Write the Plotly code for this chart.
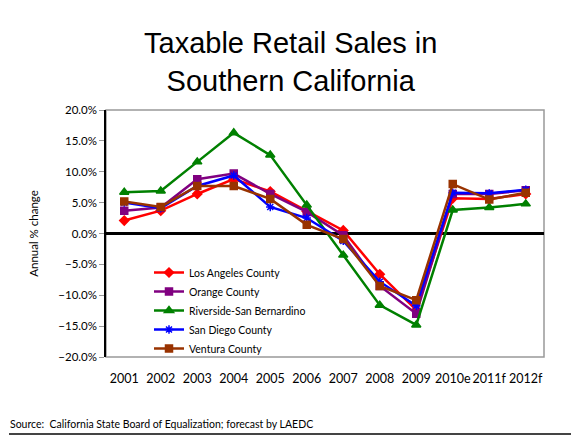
import plotly.graph_objects as go

# dados (variação anual %)
years = ["2001", "2002", "2003", "2004", "2005", "2006", "2007", "2008", "2009", "2010e", "2011f", "2012f"]

los_angeles = [2.1, 3.7, 6.4, 8.8, 6.8, 3.6, 0.5, -6.6, -12.4, 5.7, 5.6, 6.4]
orange = [3.7, 4.2, 8.8, 9.7, 6.4, 3.5, -0.3, -8.5, -13.0, 6.4, 6.4, 7.0]
riverside_sb = [6.7, 6.9, 11.6, 16.3, 12.7, 4.6, -3.5, -11.6, -14.8, 3.8, 4.2, 4.8]
san_diego = [5.0, 4.1, 7.7, 9.4, 4.3, 2.5, -1.2, -7.8, -11.7, 6.6, 6.5, 7.1]
ventura = [5.2, 4.3, 7.7, 7.7, 5.6, 1.4, -0.9, -8.5, -10.8, 8.0, 5.5, 6.6]

# a página tem margem de 8px no body, então a figura começa em (8, 8)
OFF = 8
W, H = 579 - OFF, 437 - OFF
# área do gráfico na janela: x 106..544, y 110..357
L, T = 106 - OFF, 110 - OFF
R, B = W - (544 - OFF), H - (357 - OFF)


def px2paper(x, y):
    # converte pixels da janela para coordenadas "paper"
    x, y = x - OFF, y - OFF
    return (x - L) / (W - L - R), (H - B - y) / (H - T - B)


series = [
    ("Los Angeles County", los_angeles, "#ff0000", "diamond", 7),
    ("Orange County", orange, "#800080", "square", 7),
    ("Riverside-San Bernardino", riverside_sb, "#008000", "triangle-up", 8),
    ("San Diego County", san_diego, "#0000ff", "asterisk-open", 7),
    ("Ventura County", ventura, "#993300", "square", 7),
]

fig = go.Figure()
for name, vals, color, symbol, size in series:
    fig.add_trace(go.Scatter(
        x=years, y=vals, mode="lines+markers", name=name,
        line=dict(color=color, width=2.5),
        marker=dict(color=color, symbol=symbol, size=size, line=dict(color=color, width=1.5)),
    ))

# moldura do slide (direita e base) e caixa da área do gráfico
xr, yb = px2paper(576, 434)
_, yt = px2paper(0, 9)
xl, _ = px2paper(9, 0)
fig.add_shape(type="line", xref="paper", yref="paper", x0=xr, y0=yt, x1=xr, y1=yb,
              line=dict(color="#888888", width=2))
fig.add_shape(type="line", xref="paper", yref="paper", x0=xl, y0=yb, x1=xr, y1=yb,
              line=dict(color="#444444", width=2))
fig.add_shape(type="rect", xref="paper", yref="paper", x0=0, y0=0, x1=1, y1=1,
              line=dict(color="#999999", width=1.5), layer="below")

tx, ty = px2paper(290, 62)
fig.add_annotation(text="Taxable Retail Sales in<br>Southern California", xref="paper", yref="paper",
                   x=tx, y=ty, showarrow=False, xanchor="center", yanchor="middle",
                   font=dict(family="Liberation Sans, Arial", size=29, color="black"))

sx, sy = px2paper(8, 424)
fig.add_annotation(text="Source:  California State Board of Equalization; forecast by LAEDC",
                   xref="paper", yref="paper", x=sx, y=sy, showarrow=False,
                   xanchor="left", yanchor="middle",
                   font=dict(family="Lato, Open Sans", size=10.5, color="black"))

lx, ly = px2paper(149, 258)
fig.update_layout(
    width=W, height=H,
    margin=dict(l=L, r=R, t=T, b=B),
    paper_bgcolor="white", plot_bgcolor="white",
    showlegend=True,
    legend=dict(x=lx, y=ly, xanchor="left", yanchor="top", bgcolor="rgba(0,0,0,0)",
                font=dict(family="Lato, Open Sans", size=10.5, color="black"),
                itemwidth=30, tracegroupgap=0),
    font=dict(family="Lato, Open Sans", color="black"),
)
fig.update_xaxes(
    type="category", range=[-0.5, 11.5], showgrid=False, zeroline=False,
    showline=False, ticks="", tickangle=0, tickfont=dict(size=12.5), ticklabelstandoff=12,
)
fig.update_yaxes(
    range=[-20, 20], dtick=5, tickformat=".1f", ticksuffix="%", showgrid=False,
    zeroline=True, zerolinecolor="black", zerolinewidth=3,
    showline=True, linecolor="black", linewidth=1.5,
    ticks="outside", ticklen=5, tickcolor="#999999", tickfont=dict(size=11.5),
    title=dict(text="Annual % change", font=dict(size=11.5), standoff=17),
)

fig.write_html("out.html")
